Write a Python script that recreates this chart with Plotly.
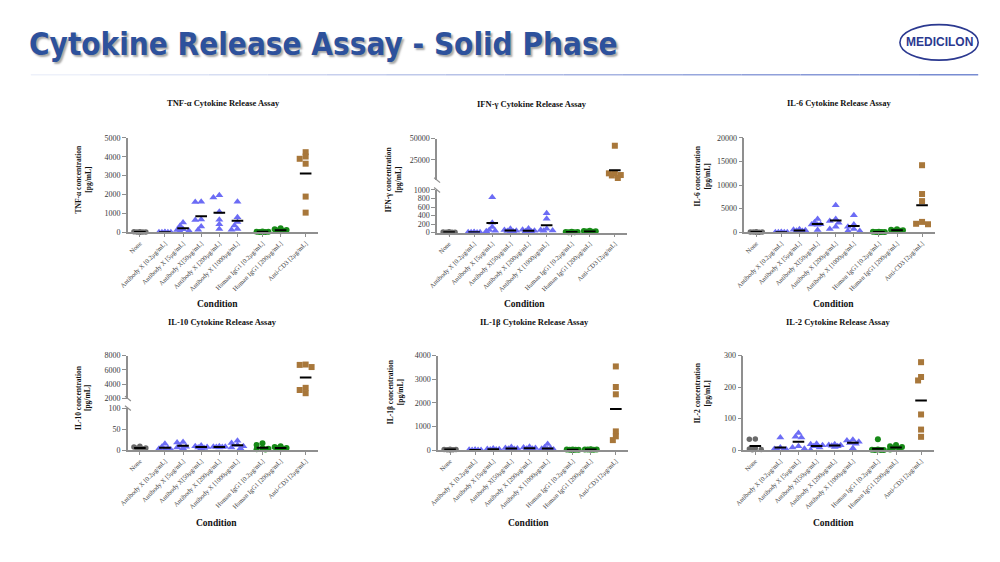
import plotly.graph_objects as go

W, H = 1000, 562

# ---------------- data ----------------
categories = ["None", "Antibody X [0.2μg/mL]", "Antibody X [5μg/mL]", "Antibody X[50μg/mL]",
              "Antibody X [200μg/mL]", "Antibody X [1000μg/mL]", "Human IgG1 [0.2μg/mL]",
              "Human IgG1 [200μg/mL]", "Anti-CD3 [2μg/mL]"]
category_group = [0, 1, 1, 1, 1, 1, 2, 2, 3]

tnf_values = [[30, 20, 10, 15, 25, 5], [8, 5, 3, 10, 2, 6], [520, 350, 160, 80, 50, 120],
              [1620, 1600, 680, 650, 310, 140], [1960, 1840, 1090, 660, 420, 175],
              [1620, 800, 540, 365, 140, 175], [40, 30, 20, 10, 25, 15], [210, 160, 120, 100, 80, 60],
              [4240, 3890, 4010, 3630, 1890, 1040]]
tnf_means = [18, 6, 215, 850, 1040, 610, 25, 110, 3110]

ifn_values = [[15, 10, 5, 20, 8, 2], [10, 5, 2, 8, 15, 3], [830, 230, 130, 40, 30, 60],
              [90, 60, 45, 35, 25, 20], [95, 65, 45, 30, 25, 20], [455, 325, 90, 60, 50, 40],
              [20, 15, 10, 5, 8, 12], [40, 35, 30, 25, 20, 15],
              [41500, 9500, 9000, 7000, 6500, 3500]]
ifn_means = [10, 7, 223, 46, 45, 170, 12, 27, 12700]

il6_values = [[100, 80, 60, 50, 30, 20], [40, 30, 20, 15, 10, 5], [650, 550, 420, 320, 250, 200],
              [2800, 2100, 1700, 1650, 1600, 500], [5710, 2790, 2370, 2020, 1185, 700],
              [3620, 1670, 1185, 700, 280, 280], [120, 90, 60, 50, 40, 30], [650, 520, 420, 350, 300, 250],
              [14200, 8100, 6600, 2200, 1800, 1700]]
il6_means = [55, 20, 380, 1740, 2510, 1320, 65, 410, 5710]

il10_values = [[9, 7, 5, 4, 3, 2], [15, 8, 5, 3, 2, 1], [19, 18, 10, 8, 6, 4], [11, 9, 7, 5, 4, 6],
               [9, 8, 8, 7, 6, 7], [22, 17, 12, 9, 6, 4], [16, 12, 4, 2, 1, 3], [9, 7, 5, 4, 3, 2],
               [6400, 6750, 6700, 3500, 3200, 2750]]
il10_means = [5, 5.5, 10.5, 7, 7.5, 11.5, 5.5, 4.7, 4930]

il1b_values = [[25, 20, 15, 10, 5, 30], [12, 8, 5, 3, 2, 6], [70, 45, 30, 20, 15, 25],
               [130, 90, 65, 50, 40, 30], [140, 110, 85, 60, 50, 40], [260, 120, 80, 50, 30, 20],
               [25, 20, 15, 10, 5, 12], [30, 25, 20, 15, 10, 18],
               [3540, 2670, 2360, 790, 580, 420]]
il1b_means = [18, 6, 34, 68, 80, 70, 15, 20, 1736]

il2_values = [[35, 34, 6, 3, 2, 1], [40, 8, 3, 2, 1, 0], [54, 42, 40, 12, 8, 4], [20, 18, 15, 12, 8, 0],
              [18, 16, 15, 14, 12, 10], [33, 30, 26, 22, 20, 6], [34, 2, 1, 0, 0, 0], [16, 12, 10, 6, 4, 2],
              [279, 232, 221, 113, 65, 42]]
il2_means = [12.5, 8.4, 26, 12.5, 14.6, 23, 4, 8.4, 157]

# ---------------- styling / layout helpers ----------------
GAP = 0.38
UNIT_PX = 18.3
positions = [i + GAP * g for i, g in enumerate(category_group)]
XRANGE = [-0.66, -0.66 + 192 / UNIT_PX]

SERIF = "Liberation Serif, Times New Roman, serif"
AXC = "#8f8f8f"
TXT = "#3a3a3a"
group_style = {
    0: dict(symbol="circle", color="#6a6a6a", size=5.5),
    1: dict(symbol="triangle-up", color="#6c6cf5", size=7),
    2: dict(symbol="circle", color="#178a17", size=6),
    3: dict(symbol="square", color="#a8773a", size=6),
}


def fx(px):
    return px / W


def fy(py):
    return 1 - py / H


def swarm_offsets(vals, scale, d=3.0, thr=4.2):
    order = sorted(range(len(vals)), key=lambda i: -vals[i])
    placed = []
    offs = [0.0] * len(vals)
    cands = [0, -d, d, -2 * d, 2 * d]
    for i in order:
        ypx = vals[i] * scale
        best, bestdist = 0, -1
        for c in cands:
            md = min([((ypx - py) ** 2 + (c - px) ** 2) ** 0.5 for py, px in placed], default=1e9)
            if md >= thr:
                best = c
                break
            if md > bestdist:
                best, bestdist = c, md
        placed.append((ypx, best))
        offs[i] = best / UNIT_PX
    return offs


panels = [
    dict(title="TNF-α Cytokine Release Assay", ytitle="TNF-α concentration<br>[pg/mL]",
         values=tnf_values, means=tnf_means, x0=120,
         lower=(136, 232, [0, 5000], [0, 1000, 2000, 3000, 4000, 5000]), upper=None,
         title_xy=(216, 101), ytitle_xy=(75, 178), cond_xy=(210, 305)),
    dict(title="IFN-γ Cytokine Release Assay", ytitle="IFN-γ concentration<br>[pg/mL]",
         values=ifn_values, means=ifn_means, x0=432,
         lower=(189, 232.3, [0, 1000], [0, 200, 400, 600, 800, 1000]),
         upper=(136.7, 179, [1000, 50000], [25000, 50000]),
         title_xy=(528, 101.5), ytitle_xy=(387.5, 178), cond_xy=(520, 305)),
    dict(title="IL-6 Cytokine Release Assay", ytitle="IL-6 concentration<br>[pg/mL]",
         values=il6_values, means=il6_means, x0=742,
         lower=(136, 232, [0, 20000], [0, 5000, 10000, 15000, 20000]), upper=None,
         title_xy=(838, 101), ytitle_xy=(699.5, 175), cond_xy=(832, 305)),
    dict(title="IL-10 Cytokine Release Assay", ytitle="IL-10 concentration<br>[pg/mL]",
         values=il10_values, means=il10_means, x0=120,
         lower=(410.7, 453.3, [0, 100], [0, 50, 100]),
         upper=(357.3, 401, [2000, 8000], [2000, 4000, 6000, 8000]),
         title_xy=(215, 323), ytitle_xy=(75, 400), cond_xy=(209, 527)),
    dict(title="IL-1β Cytokine Release Assay", ytitle="IL-1β concentration<br>[pg/mL]",
         values=il1b_values, means=il1b_means, x0=433,
         lower=(357.3, 453.3, [0, 4000], [0, 1000, 2000, 3000, 4000]), upper=None,
         title_xy=(530, 323), ytitle_xy=(390, 394), cond_xy=(524, 527)),
    dict(title="IL-2 Cytokine Release Assay", ytitle="IL-2 concentration<br>[pg/mL]",
         values=il2_values, means=il2_means, x0=741,
         lower=(357.3, 453.3, [0, 300], [0, 100, 200, 300]), upper=None,
         title_xy=(837, 323), ytitle_xy=(700, 395), cond_xy=(832, 527)),
]

fig = go.Figure()
layout = {}
annotations = []
shapes = []


def ref(kind, n):
    return kind if n == 1 else f"{kind}{n}"


def axkey(kind, n):
    return f"{kind}axis" if n == 1 else f"{kind}axis{n}"


axis_common = dict(showgrid=False, zeroline=False, showline=True, linecolor=AXC, linewidth=1.6,
                   ticks="outside", tickcolor=AXC, tickwidth=1, ticklen=4, fixedrange=True,
                   tickfont=dict(family=SERIF, size=8, color=TXT))

next_upper = 7
for k, p in enumerate(panels, start=1):
    xr, yr = ref("x", k), ref("y", k)
    x0 = p["x0"]
    layout[axkey("x", k)] = dict(axis_common, domain=[fx(x0), fx(x0 + 192)], range=XRANGE,
                                 anchor=yr, tickmode="array", tickvals=positions, ticktext=categories,
                                 tickangle=-45, ticklen=3,
                                 tickfont=dict(family=SERIF, size=6.5, color=TXT))
    ltop, lbot, lrng, lticks = p["lower"]
    layout[axkey("y", k)] = dict(axis_common, domain=[fy(lbot), fy(ltop)], range=lrng, anchor=xr,
                                 tickmode="array", tickvals=lticks, ticktext=[str(t) for t in lticks])
    lscale = (lbot - ltop) / (lrng[1] - lrng[0])
    uyr, uscale = yr, lscale
    if p["upper"] is not None:
        un = next_upper
        next_upper += 1
        utop, ubot, urng, uticks = p["upper"]
        uyr = ref("y", un)
        layout[axkey("y", un)] = dict(axis_common, domain=[fy(ubot), fy(utop)], range=urng, anchor=xr,
                                      tickmode="array", tickvals=uticks, ticktext=[str(t) for t in uticks])
        uscale = (ubot - utop) / (urng[1] - urng[0])
        # axis break marks
        for yb in (ubot, ltop):
            shapes.append(dict(type="line", xref="paper", yref="paper",
                               x0=fx(x0 - 3), x1=fx(x0 + 3), y0=fy(yb - 2.5), y1=fy(yb + 2.5),
                               line=dict(color=AXC, width=1.2)))

    mean_x, mean_y, mean_ux, mean_uy = [], [], [], []
    for ci, vals in enumerate(p["values"]):
        g = category_group[ci]
        on_upper = (g == 3 and p["upper"] is not None)
        scale = uscale if on_upper else lscale
        offs = swarm_offsets(vals, scale)
        st = group_style[g]
        fig.add_trace(go.Scatter(
            x=[positions[ci] + o for o in offs], y=vals, mode="markers",
            xaxis=xr, yaxis=(uyr if on_upper else yr), cliponaxis=False, showlegend=False,
            marker=dict(symbol=st["symbol"], color=st["color"], size=st["size"],
                        line=dict(width=0)),
            hoverinfo="skip"))
        m = p["means"][ci]
        if on_upper:
            mean_ux += [positions[ci] - 0.32, positions[ci] + 0.32, None]
            mean_uy += [m, m, None]
        else:
            mean_x += [positions[ci] - 0.32, positions[ci] + 0.32, None]
            mean_y += [m, m, None]
    fig.add_trace(go.Scatter(x=mean_x, y=mean_y, mode="lines", xaxis=xr, yaxis=yr, cliponaxis=False,
                             line=dict(color="black", width=2), showlegend=False, hoverinfo="skip"))
    if mean_ux:
        fig.add_trace(go.Scatter(x=mean_ux, y=mean_uy, mode="lines", xaxis=xr, yaxis=uyr,
                                 cliponaxis=False, line=dict(color="black", width=2),
                                 showlegend=False, hoverinfo="skip"))

    tx, ty = p["title_xy"]
    annotations.append(dict(text="<b>" + p["title"] + "</b>", x=fx(tx), y=fy(ty), xref="paper",
                            yref="paper", xanchor="center", yanchor="middle", showarrow=False,
                            font=dict(family=SERIF, size=8.5, color="#111111")))
    yx, yy = p["ytitle_xy"]
    annotations.append(dict(text="<b>" + p["ytitle"] + "</b>", x=fx(yx), y=fy(yy), xref="paper",
                            yref="paper", xanchor="center", yanchor="middle", showarrow=False,
                            textangle=-90, font=dict(family=SERIF, size=7.5, color="#111111")))
    cx, cy = p["cond_xy"]
    annotations.append(dict(text="<b>Condition</b>", x=fx(cx), y=fy(cy), xref="paper", yref="paper",
                            xanchor="center", yanchor="middle", showarrow=False,
                            font=dict(family=SERIF, size=9.5, color="#111111")))

# ---------------- header ----------------
annotations.append(dict(text="<b>Cytokine Release Assay - Solid Phase</b>", x=fx(18), y=fy(41),
                        xref="paper", yref="paper", xanchor="left", yanchor="middle", showarrow=False,
                        font=dict(family="Liberation Sans Narrow, Arial Narrow, DejaVu Sans Condensed, sans-serif",
                                  size=31.2, color="#2d519c",
                                  shadow="2px 2px 2px rgba(0,0,0,0.35)")))
annotations.append(dict(text="<b>MEDICILON</b>", x=fx(938.5), y=fy(39), xref="paper", yref="paper",
                        xanchor="center", yanchor="middle", showarrow=False,
                        font=dict(family="Liberation Sans, Arial, sans-serif", size=12, color="#2b3990")))
shapes.append(dict(type="circle", xref="paper", yref="paper", x0=fx(899), x1=fx(978),
                   y0=fy(57), y1=fy(21), line=dict(color="#2b3990", width=1.6)))

# gradient divider line
n_seg = 16
c0, c1 = (238, 241, 250), (120, 140, 210)
for i in range(n_seg):
    t = i / (n_seg - 1)
    col = "rgb(%d,%d,%d)" % tuple(round(a + (b - a) * t) for a, b in zip(c0, c1))
    xa = 22 + (978 - 22) * i / n_seg
    xb = 22 + (978 - 22) * (i + 1) / n_seg
    shapes.append(dict(type="line", xref="paper", yref="paper", x0=fx(xa), x1=fx(xb),
                       y0=fy(72), y1=fy(72), line=dict(color=col, width=1.5)))

fig.update_layout(**layout)
fig.update_layout(width=W, height=H, margin=dict(l=0, r=0, t=0, b=0), autosize=False,
                  paper_bgcolor="white", plot_bgcolor="white", showlegend=False,
                  annotations=annotations, shapes=shapes)

fig.write_html("out.html")
